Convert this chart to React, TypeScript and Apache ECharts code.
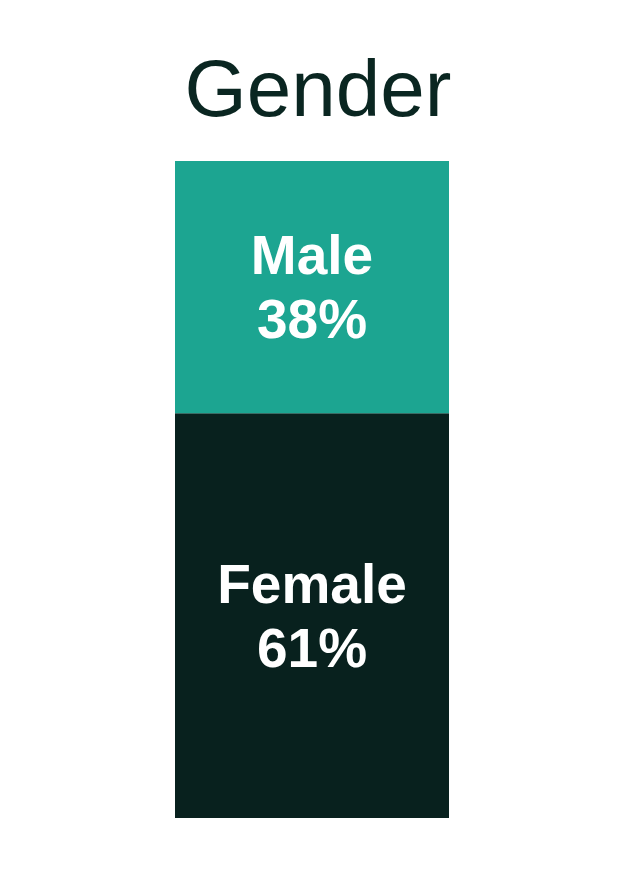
import { useEffect, useRef } from 'react';
import * as echarts from 'echarts';

const categories = ['Gender'];
const femaleValues = [61];
const maleValues = [38];

export default function App() {
  const ref = useRef<HTMLDivElement>(null);

  useEffect(() => {
    if (!ref.current) return;
    const chart = echarts.init(ref.current, undefined, { renderer: 'svg' });
    const labelStyle = {
      show: true,
      position: 'inside',
      formatter: '{a}\n{c}%',
      color: '#ffffff',
      fontSize: 55,
      fontWeight: 'bold',
      fontFamily: 'Liberation Sans, Arial, sans-serif',
      lineHeight: 64,
    };
    chart.setOption({
      animation: false,
      title: {
        text: 'Gender',
        left: 'center',
        top: 43,
        textStyle: {
          color: '#0a2621',
          fontSize: 80,
          fontWeight: 'normal',
          fontFamily: 'Liberation Sans, Arial, sans-serif',
        },
      },
      grid: { left: 175, right: 187, top: 161, bottom: 52 },
      xAxis: { type: 'category', data: categories, show: false },
      yAxis: { type: 'value', min: 0, max: 99, show: false },
      series: [
        {
          name: 'Female',
          type: 'bar',
          stack: 'g',
          data: femaleValues,
          barWidth: '100%',
          itemStyle: { color: '#08211e' },
          label: labelStyle,
        },
        {
          name: 'Male',
          type: 'bar',
          stack: 'g',
          data: maleValues,
          barWidth: '100%',
          itemStyle: { color: '#1ca591' },
          label: labelStyle,
        },
      ],
    });
    return () => chart.dispose();
  }, []);

  return (
    <div
      ref={ref}
      style={{ position: 'absolute', left: 0, top: 0, width: 636, height: 870, background: '#fff' }}
    />
  );
}
